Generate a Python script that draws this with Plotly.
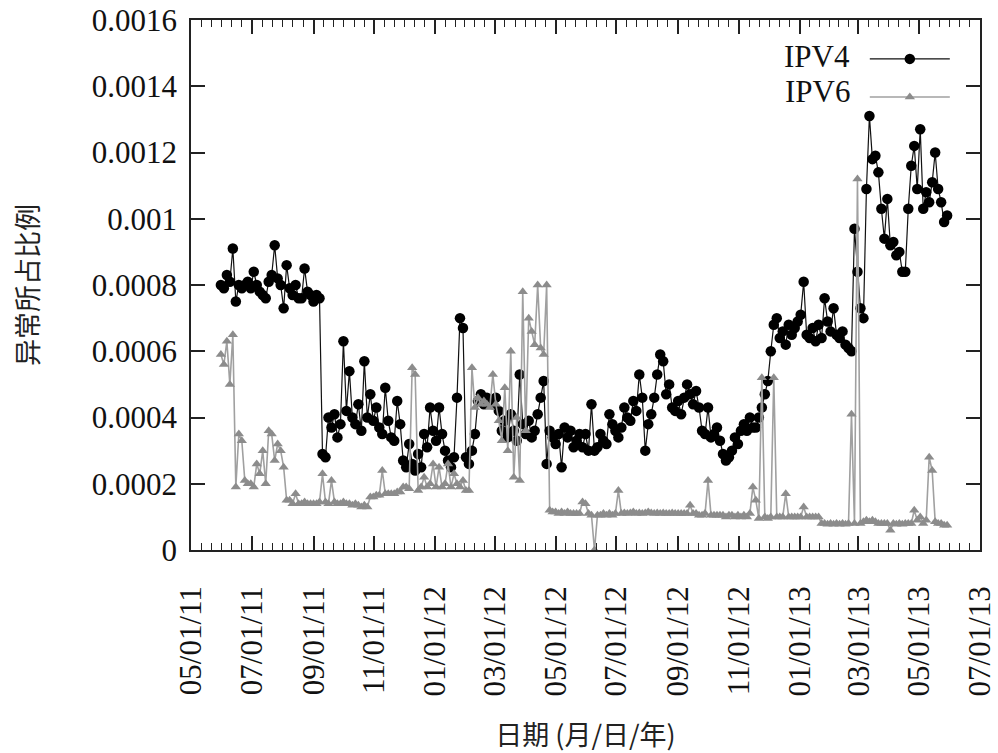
import pandas as pd
import plotly.graph_objects as go

# ---- data (values in units of 1e-4, sampled every 3 days) ----
start_date = "2011-05-31"
step = "3D"
unit = 1e-4

ipv4_e4 = [
    8.0, 7.9, 8.3, 8.1, 9.1, 7.5, 8.0, 7.9, 8.0, 8.1,
    7.9, 8.4, 8.0, 7.8, 7.7, 7.6, 8.1, 8.3, 9.2, 8.2,
    8.0, 7.3, 8.6, 7.9, 7.7, 8.0, 7.6, 7.6, 8.5, 7.8,
    7.7, 7.5, 7.7, 7.6, 2.9, 2.8, 4.0, 3.7, 4.1, 3.4,
    3.8, 6.3, 4.2, 5.4, 4.0, 3.8, 4.4, 3.6, 5.7, 4.0,
    4.7, 3.9, 4.3, 3.7, 3.5, 4.9, 3.9, 3.4, 3.3, 4.5,
    3.8, 2.7, 2.5, 3.2, 2.6, 2.4, 2.9, 2.5, 3.5, 3.1,
    4.3, 3.6, 3.3, 4.3, 3.5, 3.0, 2.7, 2.5, 2.8, 4.6,
    7.0, 6.7, 2.8, 2.6, 3.0, 3.5, 4.5, 4.7, 4.4, 4.6,
    4.5, 4.4, 4.6, 4.2, 3.6, 3.9, 3.4, 4.1, 3.6, 3.3,
    5.3, 3.8, 3.5, 3.9, 3.4, 3.6, 4.1, 4.6, 5.1, 2.6,
    3.6, 3.4, 3.2, 3.5, 2.5, 3.7, 3.4, 3.6, 3.1, 3.3,
    3.5, 3.1, 3.5, 3.0, 4.4, 3.0, 3.1, 3.5, 3.3, 3.2,
    4.1, 3.8, 3.6, 3.4, 3.7, 4.3, 4.0, 3.9, 4.5, 4.2,
    5.3, 4.6, 3.0, 3.8, 4.1, 4.6, 5.3, 5.9, 5.7, 4.7,
    5.0, 4.3, 4.2, 4.5, 4.1, 4.6, 5.0, 4.7, 4.4, 4.8,
    4.3, 3.6, 3.5, 4.3, 3.4, 3.5, 3.7, 3.3, 2.9, 2.7,
    2.8, 3.0, 3.4, 3.2, 3.6, 3.8, 3.6, 4.0, 3.7, 3.7,
    4.0, 4.3, 4.7, 5.1, 6.0, 6.8, 7.0, 6.4, 6.6, 6.2,
    6.8, 6.5, 6.7, 6.9, 7.1, 8.1, 6.5, 6.4, 6.7, 6.3,
    6.8, 6.4, 7.6, 6.9, 6.6, 7.3, 6.5, 6.4, 6.6, 6.2,
    6.1, 6.0, 9.7, 8.4, 7.3, 7.0, 10.9, 13.1, 11.8, 11.9,
    11.4, 10.3, 9.4, 10.6, 9.2, 9.3, 8.9, 9.0, 8.4, 8.4,
    10.3, 11.6, 12.2, 10.9, 12.7, 10.3, 10.8, 10.5, 11.1, 12.0,
    10.9, 10.5, 9.9, 10.1,
]

ipv6_e4 = [
    5.9, 5.6, 6.3, 5.0, 6.5, 1.9, 3.5, 3.3, 2.1, 2.0,
    2.0, 1.9, 2.6, 2.3, 3.0, 2.0, 3.6, 3.5, 2.7, 3.2,
    3.0, 2.5, 1.5, 1.5, 1.4, 1.7, 1.4, 1.4, 1.45, 1.4,
    1.4, 1.4, 1.4, 1.45, 2.3, 1.45, 1.4, 2.1, 1.45, 1.4,
    1.4, 1.45, 1.4, 1.4, 1.35, 1.4, 1.35, 1.3, 1.35, 1.3,
    1.6, 1.6, 1.65, 1.65, 2.4, 1.7, 1.7, 1.7, 1.7, 1.75,
    1.75, 1.9, 1.9, 1.85, 5.5, 5.3, 1.8, 1.9, 2.2, 1.9,
    2.0, 2.6, 1.9, 2.5, 1.9, 2.0, 2.6, 1.9, 2.3, 2.0,
    1.9, 2.1, 1.8, 1.8, 5.5, 4.3, 4.6, 4.4, 4.5, 4.4,
    4.3, 5.3, 4.4, 3.9, 3.3, 4.9, 3.0, 6.0, 2.2, 4.0,
    2.1, 7.8, 3.6, 7.0, 6.6, 6.2, 8.0, 6.1, 5.9, 8.0,
    1.2, 1.15, 1.15, 1.1, 1.15, 1.1, 1.15, 1.1, 1.1, 1.1,
    1.1, 1.45, 1.4, 1.1, 1.05, 0.0, 1.05, 1.05, 1.1, 1.05,
    1.1, 1.05, 1.1, 1.8, 1.1, 1.12, 1.1, 1.12, 1.15, 1.1,
    1.12, 1.1, 1.12, 1.15, 1.12, 1.1, 1.12, 1.1, 1.12, 1.1,
    1.1, 1.12, 1.1, 1.1, 1.1, 1.1, 1.1, 1.35, 1.1, 1.1,
    1.05, 1.05, 1.1, 2.1, 1.05, 1.05, 1.05, 1.05, 1.05, 1.0,
    1.05, 1.05, 1.0, 1.05, 1.0, 1.05, 1.0, 1.1, 1.9, 1.5,
    0.95, 5.2, 1.0, 0.95, 1.0, 5.2, 1.0, 1.0, 1.0, 1.7,
    1.0, 1.0, 1.0, 1.0, 1.0, 1.3, 1.0, 1.0, 1.0, 1.0,
    1.0, 0.8, 0.8, 0.78, 0.8, 0.78, 0.8, 0.78, 0.8, 0.78,
    0.8, 4.1, 0.8, 11.2, 0.8, 0.85, 0.9, 0.85, 0.9, 0.85,
    0.8, 0.8, 0.8, 0.8, 0.6, 0.8, 0.78, 0.8, 0.78, 0.8,
    0.8, 0.8, 1.2, 0.9, 1.0, 0.8, 0.9, 2.8, 2.4, 0.85,
    0.8, 0.8, 0.75, 0.75,
]

y_tickvals = [0, 0.0002, 0.0004, 0.0006, 0.0008, 0.001, 0.0012, 0.0014, 0.0016]
y_ticktext = ["0", "0.0002", "0.0004", "0.0006", "0.0008", "0.001", "0.0012", "0.0014", "0.0016"]
x_start, x_end = "2011-05-01", "2013-07-01"

series_names = ["IPV4", "IPV6"]
x_title = "日期 (月/日/年)"
y_title = "异常所占比例"

# ---- build ----
dates = pd.date_range(start_date, periods=len(ipv4_e4), freq=step)
ipv4 = [v * unit for v in ipv4_e4]
ipv6 = [v * unit for v in ipv6_e4]

major = pd.date_range(x_start, x_end, freq="2MS")
x_ticktext = [d.strftime("%m/%d/%y") for d in major]
minor = []
for a, b in zip(major[:-1], major[1:]):
    for k in range(1, 6):
        minor.append(a + (b - a) * k / 6)

serif = "Liberation Serif, Times New Roman, serif"
cjk = "Noto Sans CJK SC, sans-serif"

fig = go.Figure()
fig.add_trace(go.Scatter(
    x=dates, y=ipv4, mode="lines+markers", name=" ",
    line=dict(color="#111111", width=1.2),
    marker=dict(symbol="circle", size=10.5, color="#000000"),
))
fig.add_trace(go.Scatter(
    x=dates, y=ipv6, mode="lines+markers", name="  ",
    line=dict(color="#a0a0a0", width=1.6),
    marker=dict(symbol="triangle-up", size=9, color="#8c8c8c"),
))

axis_common = dict(
    showline=True, linecolor="#222222", linewidth=1.5, mirror="ticks",
    ticks="inside", tickcolor="#222222", tickwidth=1.5, ticklen=14,
    showgrid=False, zeroline=False,
    tickfont=dict(family=serif, size=31, color="#111111"),
)

fig.update_xaxes(
    type="date", range=[x_start, x_end],
    tickmode="array", tickvals=list(major), ticktext=x_ticktext,
    tickangle=-90, ticklabelstandoff=22,
    minor=dict(tickmode="array", tickvals=minor, ticks="inside", ticklen=7,
               tickcolor="#222222", tickwidth=1.2, showgrid=False),
    title=dict(text=x_title, font=dict(family=cjk, size=27, color="#222222"), standoff=38),
    **axis_common,
)
fig.update_yaxes(
    range=[0, 0.0016], tickmode="array", tickvals=y_tickvals, ticktext=y_ticktext,
    ticklabelstandoff=6,
    title=dict(text=y_title, font=dict(family=cjk, size=27, color="#222222"), standoff=45),
    **axis_common,
)

fig.update_layout(
    width=998, height=753,
    margin=dict(l=191, r=18, t=20, b=203, autoexpand=False),
    paper_bgcolor="white", plot_bgcolor="white",
    showlegend=True,
    legend=dict(x=0.854, y=0.972, xanchor="left", yanchor="top",
                bgcolor="rgba(0,0,0,0)", itemwidth=80, tracegroupgap=0,
                font=dict(family=serif, size=27)),
)
fig.add_annotation(text=series_names[0], xref="paper", yref="paper", x=0.838, y=0.932,
                   xanchor="right", yanchor="middle", showarrow=False,
                   font=dict(family=serif, size=31, color="#111111"))
fig.add_annotation(text=series_names[1], xref="paper", yref="paper", x=0.838, y=0.866,
                   xanchor="right", yanchor="middle", showarrow=False,
                   font=dict(family=serif, size=31, color="#111111"))

fig.write_html("out.html")
